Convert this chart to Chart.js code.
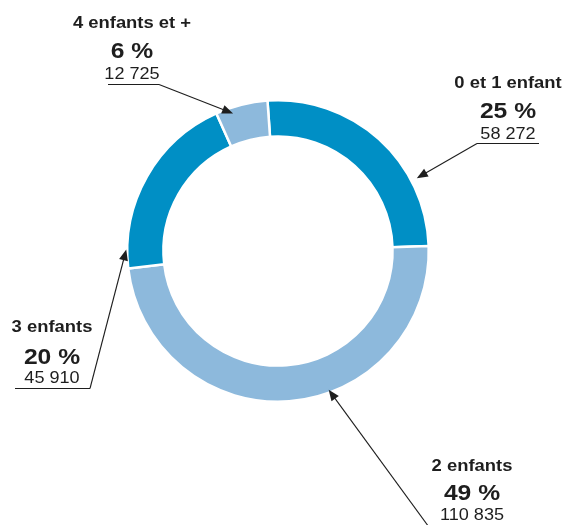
<!DOCTYPE html>
<html>
<head>
<meta charset="utf-8">
<style>
  html, body { margin: 0; padding: 0; background: #fff; }
  #wrap { width: 567px; height: 525px; }
</style>
<script src="https://cdn.jsdelivr.net/npm/chart.js@4"></script>
</head>
<body>
<div id="wrap"><canvas id="famChart"></canvas></div>
<script>
const categories = ["0 et 1 enfant", "2 enfants", "3 enfants", "4 enfants et +"];
const counts = [58272, 110835, 45910, 12725];
const percents = [25, 49, 20, 6];
const sliceColors = ["#008fc5", "#8db9dc", "#008fc5", "#8db9dc"];

/* label blocks: text centre x, baselines, underline, where the arrow hits the slice */
const callouts = [
  { x: 508, y: [88, 118, 139], line: [477, 539, 143], from: 477, at: 0.72, off: 6 },
  { x: 472, y: [471, 500, 520], line: [430, 515, 528], from: 430, at: 0.41, off: -3 },
  { x: 52, y: [332, 364, 383], line: [15, 90, 388], from: 90, at: 0.10, off: 1 },
  { x: 132, y: [28, 58, 79], line: [108, 159, 84], from: 159, at: 0.30, off: -6 }
];

const FONT = "'Liberation Sans', Arial, Helvetica, sans-serif";
const INK = "#1e1e1e";

function formatCount(n) {
  return String(n).replace(/\B(?=(\d{3})+(?!\d))/g, " ");
}

function wideText(ctx, text, x, y, font, sx) {
  ctx.save();
  ctx.font = font;
  ctx.translate(x, y);
  ctx.scale(sx, 1);
  ctx.textAlign = "center";
  ctx.textBaseline = "alphabetic";
  ctx.fillText(text, 0, 0);
  ctx.restore();
}

function arrow(ctx, x1, y1, x2, y2) {
  const a = Math.atan2(y2 - y1, x2 - x1);
  const len = 11, half = 4.5;
  ctx.beginPath();
  ctx.moveTo(x1, y1);
  ctx.lineTo(x2 - Math.cos(a) * len * 0.8, y2 - Math.sin(a) * len * 0.8);
  ctx.stroke();
  ctx.beginPath();
  ctx.moveTo(x2, y2);
  ctx.lineTo(x2 - Math.cos(a) * len - Math.sin(a) * half, y2 - Math.sin(a) * len + Math.cos(a) * half);
  ctx.lineTo(x2 - Math.cos(a) * len + Math.sin(a) * half, y2 - Math.sin(a) * len - Math.cos(a) * half);
  ctx.closePath();
  ctx.fill();
}

const calloutPlugin = {
  id: "callouts",
  afterDraw(chart) {
    const ctx = chart.ctx;
    const arcs = chart.getDatasetMeta(0).data;
    ctx.save();
    ctx.fillStyle = INK;
    ctx.strokeStyle = INK;
    ctx.lineWidth = 1.1;

    callouts.forEach((c, i) => {
      const arc = arcs[i];
      const p = arc.getProps(["x", "y", "startAngle", "endAngle", "outerRadius"], true);

      wideText(ctx, categories[i], c.x, c.y[0], "bold 16px " + FONT, 1.15);
      wideText(ctx, percents[i] + " %", c.x, c.y[1], "bold 22px " + FONT, 1.12);
      wideText(ctx, formatCount(counts[i]), c.x, c.y[2], "16px " + FONT, 1.13);

      ctx.beginPath();
      ctx.moveTo(c.line[0], c.line[2] + 0.5);
      ctx.lineTo(c.line[1], c.line[2] + 0.5);
      ctx.stroke();

      const ang = p.startAngle + c.at * (p.endAngle - p.startAngle);
      const r = p.outerRadius + c.off;
      const tx = p.x + Math.cos(ang) * r;
      const ty = p.y + Math.sin(ang) * r;
      arrow(ctx, c.from, c.line[2] + 0.5, tx, ty);
    });
    ctx.restore();
  }
};

new Chart(document.getElementById("famChart"), {
  type: "doughnut",
  data: {
    labels: categories,
    datasets: [
      {
        data: counts,
        backgroundColor: sliceColors,
        borderColor: "#ffffff",
        borderWidth: 2.5
      }
    ]
  },
  options: {
    responsive: true,
    maintainAspectRatio: false,
    animation: false,
    rotation: -4,
    cutout: "76%",
    layout: {
      padding: { left: 126, right: 137, top: 99, bottom: 122 }
    },
    plugins: {
      legend: { display: false },
      tooltip: { enabled: false }
    }
  },
  plugins: [calloutPlugin]
});
</script>
</body>
</html>
